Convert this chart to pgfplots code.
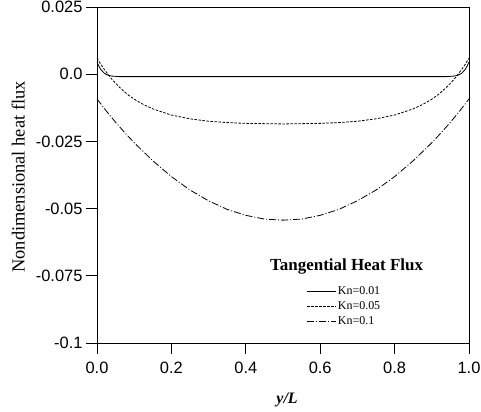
\documentclass[border=0pt]{standalone}
\usepackage{fontspec}
\setmainfont{Liberation Serif}
\newfontfamily\arialf{Liberation Sans}
\usepackage{pgfplots}
\pgfplotsset{compat=1.18}

\pgfplotstableread{
x y
0.000 0.0045
0.005 0.0030
0.010 0.0018
0.020 0.0003
0.030 -0.0004
0.040 -0.0007
0.060 -0.0009
0.100 -0.0009
0.300 -0.0009
0.500 -0.0009
0.700 -0.0009
0.900 -0.0009
0.940 -0.0009
0.960 -0.0007
0.970 -0.0004
0.980 0.0003
0.990 0.0018
0.995 0.0030
1.000 0.0045
}\knA

\pgfplotstableread{
x y
0.000 0.0060
0.010 0.0037
0.020 0.0017
0.040 -0.0019
0.060 -0.0048
0.080 -0.0073
0.100 -0.0093
0.125 -0.0113
0.150 -0.0129
0.200 -0.0152
0.250 -0.0166
0.300 -0.0175
0.350 -0.0180
0.400 -0.0183
0.450 -0.0184
0.500 -0.0185
0.550 -0.0184
0.600 -0.0183
0.650 -0.0180
0.700 -0.0175
0.750 -0.0166
0.800 -0.0152
0.850 -0.0129
0.875 -0.0113
0.900 -0.0093
0.920 -0.0073
0.940 -0.0048
0.960 -0.0019
0.980 0.0017
0.990 0.0037
1.000 0.0060
}\knB

\pgfplotstableread{
x y
0.000 -0.0092
0.025 -0.0137
0.050 -0.0179
0.075 -0.0218
0.100 -0.0255
0.150 -0.0322
0.200 -0.0381
0.250 -0.0431
0.300 -0.0471
0.350 -0.0503
0.400 -0.0525
0.450 -0.0539
0.500 -0.0543
0.550 -0.0539
0.600 -0.0525
0.650 -0.0503
0.700 -0.0471
0.750 -0.0431
0.800 -0.0381
0.850 -0.0322
0.900 -0.0255
0.925 -0.0218
0.950 -0.0179
0.975 -0.0137
1.000 -0.0092
}\knC

\begin{document}
\begin{tikzpicture}
\begin{axis}[
  scale only axis, width=372bp, height=336bp,
  xmin=0, xmax=1, ymin=-0.1, ymax=0.025,
  axis line style={line width=0.8bp},
  tick align=outside, major tick length=11bp,
  xtick pos=left, ytick pos=left,
  xtick={0,0.2,0.4,0.6,0.8,1},
  xticklabels={0.0,0.2,0.4,0.6,0.8,1.0},
  ytick={-0.1,-0.075,-0.05,-0.025,0,0.025},
  yticklabels={-0.1,-0.075,-0.05,-0.025,0.0,0.025},
  tick style={line width=0.8bp, black},
  ticklabel style={font=\arialf\fontsize{16.5}{18}\selectfont},
  xticklabel style={yshift=-4bp},
  /pgf/number format/assume math mode=true,
  every axis x label/.style={at={(rel axis cs:0.511,-0.1786)}, anchor=base, inner sep=0pt},
  every axis y label/.style={at={(rel axis cs:-0.1935,0.494)}, rotate=90, anchor=south, inner sep=0pt},
  xlabel={\fontsize{16}{18}\selectfont\bfseries\itshape y/L},
  ylabel={\fontsize{18.5}{20}\selectfont Nondimensional heat flux},
  legend cell align=left,
  legend image code/.code={\draw[#1, line width=0.8bp] (0bp,0bp) -- (29bp,0bp);},
  legend style={at={(rel axis cs:0.563,0.177)}, anchor=north west, draw=none, fill=none, inner sep=0pt, row sep=0pt,
    font=\fontsize{12}{13}\selectfont, nodes={inner sep=1.5bp, text height=9bp, text depth=3bp}},
]
\addplot[black, line width=0.8bp, solid] table[x=x,y=y] {\knA};
\addlegendentry{Kn=0.01}
\addplot[black, line width=0.8bp, dash pattern=on 2.5bp off 1.5bp] table[x=x,y=y] {\knB};
\addlegendentry{Kn=0.05}
\addplot[black, line width=0.8bp, dash pattern=on 7bp off 2bp on 1bp off 2bp] table[x=x,y=y] {\knC};
\addlegendentry{Kn=0.1}
\node[font=\bfseries\fontsize{17}{18}\selectfont, inner sep=0pt] at (rel axis cs:0.671,0.228) {Tangential Heat Flux};
\end{axis}
\pgfresetboundingbox
\path[use as bounding box] ([shift={(-97bp,-69bp)}]current axis.south west) rectangle ([shift={(384bp,343bp)}]current axis.south west);
\end{tikzpicture}
\end{document}
